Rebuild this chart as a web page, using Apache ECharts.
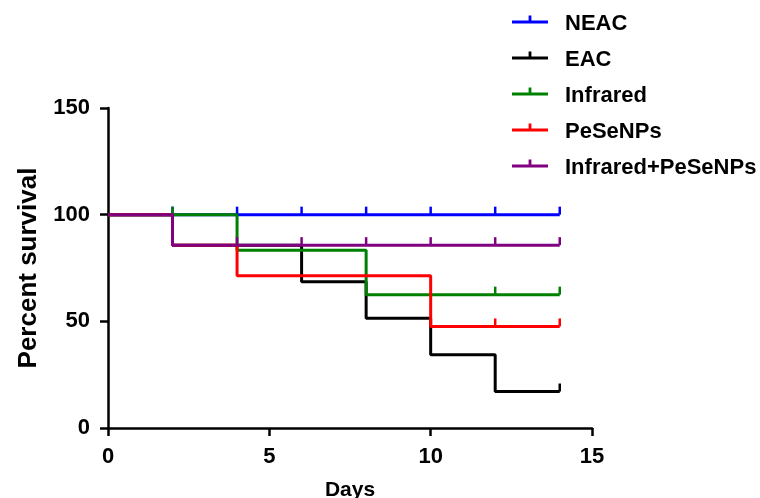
<!DOCTYPE html>
<html><head><meta charset="utf-8">
<script src="https://cdn.jsdelivr.net/npm/echarts@6/dist/echarts.min.js"></script>
<style>html,body{margin:0;padding:0;background:#fff}#c{width:760px;height:498px}</style>
</head><body><div id="c"></div>
<script>
const seriesNames = ['NEAC', 'EAC', 'Infrared', 'PeSeNPs', 'Infrared+PeSeNPs'];
const seriesColors = ['#0000FF', '#000000', '#008000', '#FF0000', '#800080'];
const xTicks = [0, 5, 10, 15];
const yTicks = [0, 50, 100, 150];

const neacDays = [0, 2, 4, 6, 8, 10, 12, 14];
const neacSurv = [100, 100, 100, 100, 100, 100, 100, 100];
const neacCensor = [2, 4, 6, 8, 10, 12, 14];

const eacDays = [0, 2, 6, 8, 10, 12, 14];
const eacSurv = [100, 85.7, 68.6, 51.4, 34.3, 17.1, 17.1];
const eacCensor = [14];

const irDays = [0, 2, 4, 8, 12, 14];
const irSurv = [100, 100, 83.3, 62.5, 62.5, 62.5];
const irCensor = [2, 12, 14];

const peDays = [0, 2, 4, 10, 12, 14];
const peSurv = [100, 85.7, 71.4, 47.6, 47.6, 47.6];
const peCensor = [12, 14];

const comboDays = [0, 2, 4, 6, 8, 10, 12, 14];
const comboSurv = [100, 85.7, 85.7, 85.7, 85.7, 85.7, 85.7, 85.7];
const comboCensor = [4, 6, 8, 10, 12, 14];

const groups = [
  [neacDays, neacSurv, neacCensor],
  [eacDays, eacSurv, eacCensor],
  [irDays, irSurv, irCensor],
  [peDays, peSurv, peCensor],
  [comboDays, comboSurv, comboCensor]
];

const FONT = 'Arial, "Liberation Sans", sans-serif';
const legendIcon = 'path://M0,5 L16.6,5 L16.6,0 L19.4,0 L19.4,5 L36,5 L36,8 L0,8 Z M0,17 L0.01,17 Z';

const series = groups.map(function (g, i) {
  const days = g[0], surv = g[1], cens = g[2];
  return {
    name: seriesNames[i],
    type: 'line',
    step: 'end',
    color: seriesColors[i],
    showAllSymbol: true,
    lineStyle: { width: 3, color: seriesColors[i] },
    itemStyle: { color: seriesColors[i] },
    emphasis: { disabled: true },
    z: 2 + i,
    data: days.map(function (d, k) {
      const isC = cens.indexOf(d) >= 0;
      return {
        value: [d, surv[k]],
        symbol: isC ? 'rect' : 'none',
        symbolSize: [2.5, 8],
        symbolOffset: [0, -4]
      };
    })
  };
});

const chart = echarts.init(document.getElementById('c'));
chart.setOption({
  animation: false,
  backgroundColor: '#fff',
  grid: { left: 108, right: 168, top: 108, bottom: 70, outerBoundsMode: 'none', containLabel: false },
  legend: {
    orient: 'vertical',
    left: 512,
    top: 13,
    padding: 0,
    itemWidth: 36,
    itemHeight: 17,
    itemGap: 14,
    selectedMode: false,
    data: seriesNames.map(function (n, i) {
      return { name: n, icon: legendIcon, itemStyle: { color: seriesColors[i], borderWidth: 0 } };
    }),
    textStyle: { fontFamily: FONT, fontWeight: 'bold', fontSize: 22, color: '#000', padding: [0, 0, 0, 12] },
    itemStyle: { borderWidth: 0 }
  },
  xAxis: {
    type: 'value',
    min: xTicks[0], max: xTicks[xTicks.length - 1], interval: 5,
    name: 'Days', nameLocation: 'middle', nameGap: 52,
    nameTextStyle: { fontFamily: FONT, fontWeight: 'bold', fontSize: 21, color: '#000' },
    axisLine: { lineStyle: { color: '#000', width: 2.5 } },
    axisTick: { show: true, length: 8, lineStyle: { color: '#000', width: 2.5 } },
    axisLabel: { margin: 18, fontFamily: FONT, fontWeight: 'bold', fontSize: 22, color: '#000' },
    splitLine: { show: false }
  },
  yAxis: {
    type: 'value',
    min: yTicks[0], max: yTicks[yTicks.length - 1], interval: 50,
    name: 'Percent survival', nameLocation: 'middle', nameGap: 66,
    nameTextStyle: { fontFamily: FONT, fontWeight: 'bold', fontSize: 26, color: '#000' },
    axisLine: { show: true, lineStyle: { color: '#000', width: 2.5 } },
    axisTick: { show: true, length: 8, lineStyle: { color: '#000', width: 2.5 } },
    axisLabel: { margin: 18, fontFamily: FONT, fontWeight: 'bold', fontSize: 22, color: '#000' },
    splitLine: { show: false }
  },
  series: series
});
</script></body></html>
